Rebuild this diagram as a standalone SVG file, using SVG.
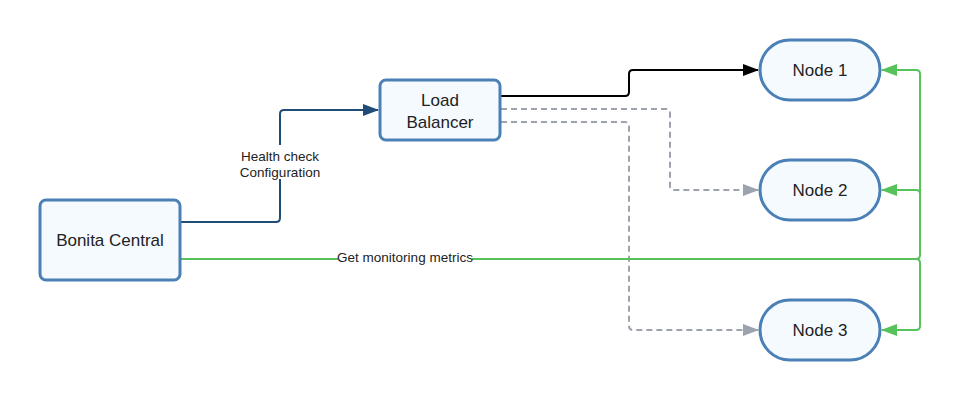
<svg xmlns="http://www.w3.org/2000/svg" width="963" height="400" viewBox="0 0 963 400">
<style>
.node rect{fill:#f5faff;stroke:#4a80b6;stroke-width:3}
.nt{font-family:"Liberation Sans",Arial,sans-serif;font-size:17px;fill:#222;text-anchor:middle}
.lt{font-family:"Liberation Sans",Arial,sans-serif;font-size:13.5px;fill:#222;text-anchor:middle}
.c{fill:none;stroke-width:2;stroke-linejoin:round}
</style>
<defs>
<marker id="ab" markerWidth="16" markerHeight="12" refX="15" refY="6" orient="auto" markerUnits="userSpaceOnUse"><path d="M0,0 L16,6 L0,12 Z" fill="#1f4d78"/></marker>
<marker id="ak" markerWidth="16" markerHeight="12" refX="15" refY="6" orient="auto" markerUnits="userSpaceOnUse"><path d="M0,0 L16,6 L0,12 Z" fill="#000"/></marker>
<marker id="ag" markerWidth="16" markerHeight="12" refX="15" refY="6" orient="auto" markerUnits="userSpaceOnUse"><path d="M0,0 L16,6 L0,12 Z" fill="#9ca3af"/></marker>
<marker id="agr" markerWidth="16" markerHeight="12" refX="15" refY="6" orient="auto" markerUnits="userSpaceOnUse"><path d="M0,0 L16,6 L0,12 Z" fill="#55c25a"/></marker>
</defs>
<rect width="963" height="400" fill="#fff"/>
<g id="connectors">
<path class="c" stroke="#1f4d78" d="M181,222 H276 Q280,222 280,218 V114 Q280,110 284,110 H378" marker-end="url(#ab)"/>
<path class="c" stroke="#000" d="M501,96 H625 Q629,96 629,92 V74 Q629,70 633,70 H758" marker-end="url(#ak)"/>
<path class="c" stroke="#9ca3af" stroke-dasharray="6,4" d="M501,109 H666 Q670,109 670,113 V186 Q670,190 674,190 H758" marker-end="url(#ag)"/>
<path class="c" stroke="#9ca3af" stroke-dasharray="6,4" d="M501,122 H625 Q629,122 629,126 V326 Q629,330 633,330 H758" marker-end="url(#ag)"/>
<path class="c" stroke="#55c25a" d="M181,259 H916 Q920,259 920,255 V74 Q920,70 916,70 H882" marker-end="url(#agr)"/>
<path class="c" stroke="#55c25a" d="M920,194 Q920,190 916,190 H882" marker-end="url(#agr)"/>
<path class="c" stroke="#55c25a" d="M916,259 Q920,259 920,263 V326 Q920,330 916,330 H882" marker-end="url(#agr)"/>
<rect x="238" y="145" width="84" height="34" fill="#fff"/>
<text class="lt" x="280" y="161">Health check</text>
<text class="lt" x="280" y="177">Configuration</text>
<rect x="338" y="251" width="134" height="14" fill="#fff"/>
<text class="lt" x="405" y="262">Get monitoring metrics</text>
</g>
<g id="bonita" class="node"><rect x="40" y="200" width="140" height="80" rx="6"/><text class="nt" x="110" y="246">Bonita Central</text></g>
<g id="lb" class="node"><rect x="380" y="80" width="120" height="60" rx="6"/><text class="nt" x="440" y="106">Load</text><text class="nt" x="440" y="128">Balancer</text></g>
<g id="node1" class="node"><rect x="760" y="40" width="120" height="60" rx="30"/><text class="nt" x="820" y="76">Node 1</text></g>
<g id="node2" class="node"><rect x="760" y="160" width="120" height="60" rx="30"/><text class="nt" x="820" y="196">Node 2</text></g>
<g id="node3" class="node"><rect x="760" y="300" width="120" height="60" rx="30"/><text class="nt" x="820" y="336">Node 3</text></g>
</svg>
